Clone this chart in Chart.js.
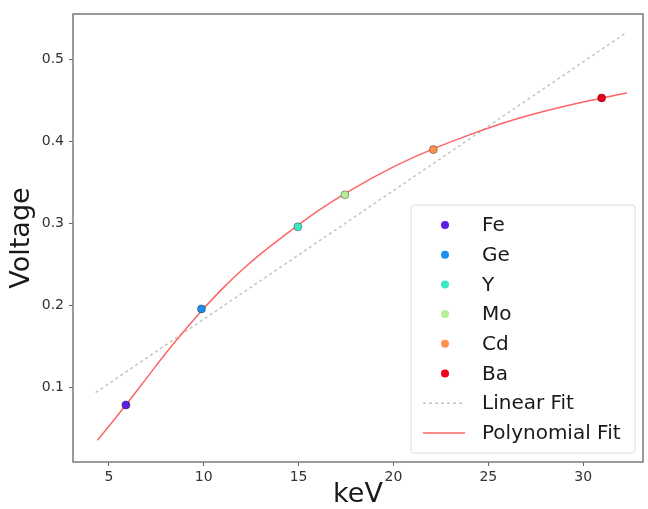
<!DOCTYPE html>
<html>
<head>
<meta charset="utf-8">
<script src="https://cdn.jsdelivr.net/npm/chart.js@4.4.0/dist/chart.umd.min.js"></script>
<style>
  html, body { margin: 0; padding: 0; background: #fff; }
  #wrap { width: 648px; height: 509px; }
</style>
</head>
<body>
<div id="wrap"><canvas id="myChart" width="648" height="509"></canvas></div>
<script>
// measured lines (keV, Voltage)
const elements = ['Fe', 'Ge', 'Y', 'Mo', 'Cd', 'Ba'];
const energies = [5.9, 9.88, 14.96, 17.44, 22.1, 30.97];
const voltages = [0.079, 0.196, 0.296, 0.335, 0.390, 0.453];
const colors = ['#5a1ee6', '#1e8ff0', '#3de8c4', '#b8ee98', '#ff9050', '#f0001e'];

// fits
const linX = [4.3, 32.3];
const linY = [0.094, 0.533];
const polyX = [4.4, 5, 6, 7, 8, 9, 10, 11, 12, 13, 14, 16, 18, 20, 22, 24, 26, 28, 30, 32.3];
const polyY = [0.036, 0.053, 0.082, 0.112, 0.142, 0.170, 0.1965, 0.221, 0.243, 0.263, 0.281, 0.315, 0.344, 0.369, 0.390, 0.408, 0.424, 0.437, 0.448, 0.459];

const xTicks = [5, 10, 15, 20, 25, 30];
const yTicks = [0.1, 0.2, 0.3, 0.4, 0.5];

const datasets = [];
datasets.push({
  label: 'Linear Fit',
  type: 'line',
  data: linX.map((x, i) => ({x: x, y: linY[i]})),
  borderColor: '#c4c4c4',
  borderWidth: 1.5,
  borderDash: [3, 3],
  pointRadius: 0,
  order: 3
});
datasets.push({
  label: 'Polynomial Fit',
  type: 'line',
  data: polyX.map((x, i) => ({x: x, y: polyY[i]})),
  borderColor: '#ff6464',
  borderWidth: 1.5,
  pointRadius: 0,
  tension: 0.35,
  order: 2
});
elements.forEach((el, i) => {
  datasets.push({
    label: el,
    type: 'scatter',
    data: [{x: energies[i], y: voltages[i]}],
    backgroundColor: colors[i],
    borderColor: 'rgba(0,0,0,0.35)',
    borderWidth: 1,
    pointRadius: 4,
    order: 1
  });
});

// matplotlib-like frame + legend inside the axes
const framePlugin = {
  id: 'frame',
  afterDraw(chart) {
    const ctx = chart.ctx;
    const a = chart.chartArea;
    ctx.save();
    ctx.strokeStyle = '#7a7a7a';
    ctx.lineWidth = 1.5;
    ctx.strokeRect(a.left, a.top, a.right - a.left, a.bottom - a.top);

    // legend
    const order = elements.concat(['Linear Fit', 'Polynomial Fit']);
    const bw = 224, bh = 248;
    const bx = a.right - 8 - bw, by = a.bottom - 9 - bh;
    ctx.fillStyle = 'rgba(255,255,255,0.85)';
    ctx.strokeStyle = '#dcdcdc';
    ctx.lineWidth = 1;
    ctx.beginPath();
    ctx.roundRect(bx, by, bw, bh, 3);
    ctx.fill();
    ctx.stroke();
    ctx.font = '20px "DejaVu Sans"';
    ctx.textBaseline = 'middle';
    order.forEach((name, i) => {
      const ds = chart.data.datasets.find(d => d.label === name);
      const cy = by + 20 + i * 29.7;
      if (ds.type === 'line') {
        ctx.strokeStyle = ds.borderColor;
        ctx.lineWidth = 1.5;
        ctx.setLineDash(ds.borderDash || []);
        ctx.beginPath();
        ctx.moveTo(bx + 12, cy);
        ctx.lineTo(bx + 54, cy);
        ctx.stroke();
        ctx.setLineDash([]);
      } else {
        ctx.fillStyle = ds.backgroundColor;
        ctx.beginPath();
        ctx.arc(bx + 34, cy, 4, 0, Math.PI * 2);
        ctx.fill();
      }
      ctx.fillStyle = '#1a1a1a';
      ctx.fillText(name, bx + 71, cy + 1);
    });
    ctx.restore();
  }
};

const config = {
  type: 'scatter',
  data: { datasets: datasets },
  options: {
    responsive: false,
    animation: false,
    layout: { padding: { top: 14, right: 3, left: 0, bottom: 0 } },
    plugins: { legend: { display: false }, tooltip: { enabled: false } },
    scales: {
      x: {
        type: 'linear',
        min: 3.11,
        max: 33.15,
        afterBuildTicks: s => { s.ticks = xTicks.map(v => ({value: v})); },
        afterFit: s => { s.height = 47; },
        grid: { drawOnChartArea: false, drawTicks: true, tickLength: 4, color: '#666' },
        border: { display: false },
        ticks: { font: { family: 'DejaVu Sans', size: 14 }, color: '#333', padding: 3, maxRotation: 0 },
        title: { display: true, text: 'keV', font: { family: 'DejaVu Sans', size: 27 }, color: '#1a1a1a', padding: { top: 0, bottom: -2 } }
      },
      y: {
        type: 'linear',
        min: 0.0095,
        max: 0.5552,
        afterBuildTicks: s => { s.ticks = yTicks.map(v => ({value: v})); },
        afterFit: s => { s.width = 73; },
        grid: { drawOnChartArea: false, drawTicks: true, tickLength: 4, color: '#666' },
        border: { display: false },
        ticks: { font: { family: 'DejaVu Sans', size: 14 }, color: '#333', padding: 5, callback: v => v.toFixed(1) },
        title: { display: true, text: 'Voltage', font: { family: 'DejaVu Sans', size: 27 }, color: '#1a1a1a', padding: { top: 6, bottom: 4 } }
      }
    }
  },
  plugins: [framePlugin]
};

const myChart = new Chart(document.getElementById('myChart'), config);
</script>
</body>
</html>
